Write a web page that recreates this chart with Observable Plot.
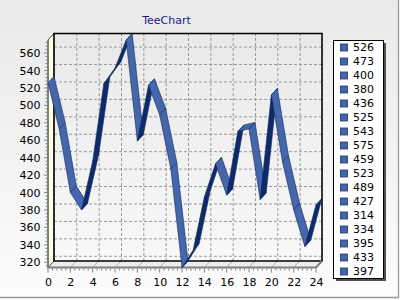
<!DOCTYPE html>
<html>
<head>
<meta charset="utf-8">
<script src="https://cdn.jsdelivr.net/npm/d3@7"></script>
<script src="https://cdn.jsdelivr.net/npm/@observablehq/plot@0.6"></script>
<style>
  html, body { margin: 0; padding: 0; background: #ffffff; }
  #chart { width: 400px; height: 300px; }
</style>
</head>
<body>
<div id="chart"></div>
<script>
// ---- data ----
const titleText = "TeeChart";
const xValues = [0, 1, 2, 3, 4, 5, 6, 7, 8, 9, 10, 11, 12, 13, 14, 15, 16, 17, 18, 19, 20, 21, 22, 23, 24];
const values = [526, 473, 400, 380, 436, 525, 543, 575, 459, 523, 489, 427, 314, 334, 395, 433, 397, 470, 473, 392, 512, 435, 380, 338, 386];
const legendLabels = ["526", "473", "400", "380", "436", "525", "543", "575", "459", "523", "489", "427", "314", "334", "395", "433", "397"];
const yTicks = [320, 340, 360, 380, 400, 420, 440, 460, 480, 500, 520, 540, 560];
const xTicks = [0, 2, 4, 6, 8, 10, 12, 14, 16, 18, 20, 22, 24];

// ---- layout / style ----
const W = 400, H = 300;
const DX = 6, DY = 6.5;           // 3D depth offset in px
const light = "#4466aa", dark = "#0d2b6b", edge = "#10285e";
const xDomain = d3.extent(xValues);
const yDomain = d3.extent(values);
const font = "DejaVu Sans, Verdana, sans-serif";

// back chrome: floor, left wall, back wall
const chromeBack = (index, scales) => {
  const {x, y} = scales;
  const g = d3.create("svg:g");
  const defs = g.append("defs");
  const wg = defs.append("linearGradient").attr("id", "wallGrad")
    .attr("x1", 0).attr("y1", 0).attr("x2", 0).attr("y2", 1);
  wg.append("stop").attr("offset", "0%").attr("stop-color", "#e9e9e9");
  wg.append("stop").attr("offset", "100%").attr("stop-color", "#f8f8f8");
  const x0 = x(xDomain[0]), x1 = x(xDomain[1]), y0 = y(yDomain[0]), y1 = y(yDomain[1]);
  // floor
  g.append("path")
    .attr("d", `M${x0},${y0}L${x0 + DX},${y0 - DY}L${x1 + DX},${y0 - DY}L${x1},${y0}Z`)
    .attr("fill", "#ececec");
  for (const t of xTicks) {
    g.append("line")
      .attr("x1", x(t)).attr("y1", y0).attr("x2", x(t) + DX).attr("y2", y0 - DY)
      .attr("stroke", "#b0b0b0").attr("stroke-width", 1);
  }
  // left wall
  g.append("path")
    .attr("d", `M${x0},${y0}L${x0},${y1}L${x0 + DX},${y1 - DY}L${x0 + DX},${y0 - DY}Z`)
    .attr("fill", "#ffffe0").attr("stroke", "#505050").attr("stroke-width", 1);
  // back wall
  g.append("rect")
    .attr("x", x0 + DX).attr("y", y1 - DY)
    .attr("width", x1 - x0).attr("height", y0 - y1)
    .attr("fill", "url(#wallGrad)");
  return g.node();
};

// back wall border + axis lines + ticks
const chromeFront = (index, scales) => {
  const {x, y} = scales;
  const g = d3.create("svg:g");
  const x0 = x(xDomain[0]), x1 = x(xDomain[1]), y0 = y(yDomain[0]), y1 = y(yDomain[1]);
  g.append("rect")
    .attr("x", x0 + DX).attr("y", y1 - DY)
    .attr("width", x1 - x0).attr("height", y0 - y1)
    .attr("fill", "none").attr("stroke", "#000").attr("stroke-width", 1.5);
  // front axis lines
  g.append("path")
    .attr("d", `M${x0},${y1}L${x0},${y0}L${x1},${y0}L${x1 + DX},${y0 - DY}`)
    .attr("fill", "none").attr("stroke", "#808080").attr("stroke-width", 2);
  // x ticks (major + minor)
  for (let v = xDomain[0]; v <= xDomain[1] + 1e-9; v += 0.4) {
    const isMajor = Math.abs(v / 2 - Math.round(v / 2)) < 1e-6;
    g.append("line")
      .attr("x1", x(v)).attr("x2", x(v))
      .attr("y1", y0 + 1).attr("y2", y0 + (isMajor ? 5 : 3))
      .attr("stroke", "#808080").attr("stroke-width", 1);
  }
  // y ticks (major + minor)
  for (let v = yTicks[0] - 4; v <= yDomain[1]; v += 4) {
    if (v < yDomain[0]) continue;
    const isMajor = yTicks.includes(v);
    g.append("line")
      .attr("y1", y(v)).attr("y2", y(v))
      .attr("x1", x0 - 1).attr("x2", x0 - (isMajor ? 4 : 2.5))
      .attr("stroke", "#808080").attr("stroke-width", 1);
  }
  return g.node();
};

// 3D ribbon line
const ribbon = (index, scales) => {
  const {x, y} = scales;
  const g = d3.create("svg:g");
  for (let i = 0; i < xValues.length - 1; i++) {
    const ax = x(xValues[i]), ay = y(values[i]);
    const bx = x(xValues[i + 1]), by = y(values[i + 1]);
    const cross = (bx - ax) * (-DY) - (by - ay) * DX;
    g.append("path")
      .attr("d", `M${ax},${ay}L${bx},${by}L${bx + DX},${by - DY}L${ax + DX},${ay - DY}Z`)
      .attr("fill", cross > 0 ? dark : light)
      .attr("stroke", edge).attr("stroke-width", 0.6)
      .attr("stroke-linejoin", "round");
  }
  return g.node();
};

// title, legend, panel border
const overlay = () => {
  const g = d3.create("svg:g");
  const legX = 333, legY = 40, legW = 50, rowH = 14;
  const legH = legendLabels.length * rowH + 0;
  g.append("text").attr("x", legX / 2).attr("y", 23.5)
    .attr("text-anchor", "middle").attr("font-family", font).attr("font-size", 11)
    .attr("fill", "#1f1a8a").text(titleText);
  g.append("rect").attr("x", legX + 3).attr("y", legY + 3).attr("width", legW).attr("height", legH)
    .attr("fill", "#505050");
  g.append("rect").attr("x", legX + 0.5).attr("y", legY + 0.5).attr("width", legW).attr("height", legH)
    .attr("fill", "#ffffff").attr("stroke", "#000").attr("stroke-width", 1);
  legendLabels.forEach((lab, i) => {
    const cy = legY + 7.5 + i * rowH;
    g.append("rect").attr("x", legX + 7.5).attr("y", cy - 3.5).attr("width", 7).attr("height", 7)
      .attr("fill", light).attr("stroke", "#1c3270").attr("stroke-width", 0.8);
    g.append("text").attr("x", legX + 20).attr("y", cy).attr("dy", "0.36em")
      .attr("text-anchor", "start")
      .attr("font-family", font).attr("font-size", 11).attr("fill", "#000").text(lab);
  });
  // panel border (bevel)
  g.append("rect").attr("x", 398.5).attr("y", 0).attr("width", 2).attr("height", 300).attr("fill", "#ffffff");
  g.append("rect").attr("x", 0).attr("y", 297.5).attr("width", 400).attr("height", 3).attr("fill", "#ffffff");
  g.append("path").attr("d", "M0,297.5H398.5V0").attr("fill", "none").attr("stroke", "#9a9a9a").attr("stroke-width", 1.3);
  return g.node();
};

const chart = Plot.plot({
  width: W,
  height: H,
  marginLeft: 48,
  marginRight: 84,
  marginTop: 40,
  marginBottom: 32.5,
  style: {
    fontFamily: font,
    fontSize: "11px",
    color: "#000",
    background: "linear-gradient(#e9e9e9, #fcfcfc)",
    overflow: "visible"
  },
  x: {domain: xDomain, ticks: xTicks, tickSize: 0, tickPadding: 10, tickFormat: d3.format("d"), label: null},
  y: {domain: yDomain, ticks: yTicks, tickSize: 0, tickPadding: 8, tickFormat: d3.format("d"), label: null},
  marks: [
    chromeBack,
    Plot.ruleY(yTicks, {x1: xDomain[0], x2: xDomain[1], dx: DX, dy: -DY, stroke: "#9a9a9a", strokeDasharray: "3,2", strokeWidth: 1}),
    Plot.ruleX(xTicks, {y1: yDomain[0], y2: yDomain[1], dx: DX, dy: -DY, stroke: "#9a9a9a", strokeDasharray: "3,2", strokeWidth: 1}),
    chromeFront,
    ribbon,
    overlay
  ]
});

document.getElementById("chart").appendChild(chart);
</script>
</body>
</html>
